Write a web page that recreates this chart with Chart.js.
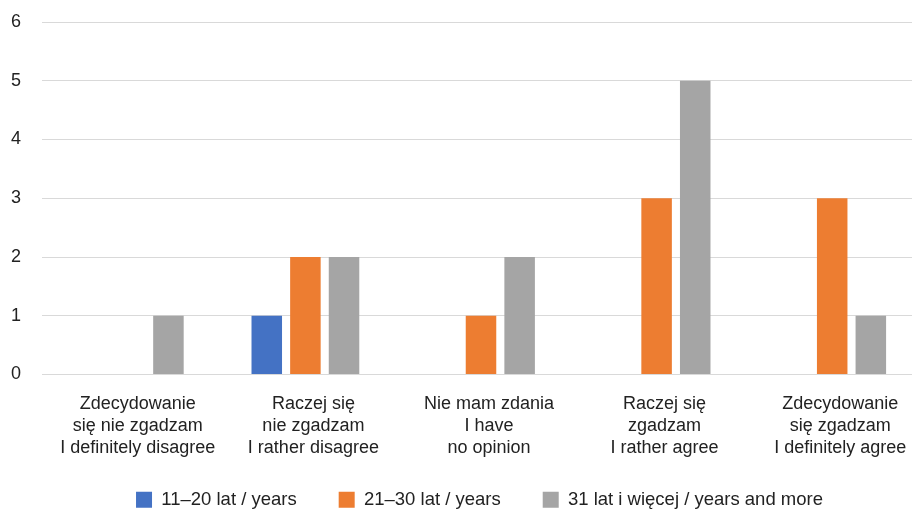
<!DOCTYPE html>
<html><head><meta charset="utf-8">
<script src="https://cdn.jsdelivr.net/npm/chart.js@4/dist/chart.umd.min.js"></script>
<style>html,body{margin:0;padding:0;overflow:hidden;background:#fff}#wrap{width:920px;height:512px}</style>
</head><body><div id="wrap"><canvas id="c" width="920" height="512"></canvas></div>
<script>
const categories = [
  ["Zdecydowanie", "się nie zgadzam", "I definitely disagree"],
  ["Raczej się", "nie zgadzam", "I rather disagree"],
  ["Nie mam zdania", "I have", "no opinion"],
  ["Raczej się", "zgadzam", "I rather agree"],
  ["Zdecydowanie", "się zgadzam", "I definitely agree"]
];
const seriesNames = ["11–20 lat / years", "21–30 lat / years", "31 lat i więcej / years and more"];
const age11_20 = [0, 1, 0, 0, 0];
const age21_30 = [0, 2, 1, 3, 3];
const age31plus = [1, 2, 2, 5, 1];
const yTicks = [0, 1, 2, 3, 4, 5, 6];
const colors = ["#4472C4", "#ED7D31", "#A5A5A5"];

const FONT = "'Liberation Sans', Arial, sans-serif";
const LEGEND_CUT = 18;
const LEGEND_SHIFT_UP = 11;
const LEGEND_SHIFT_RIGHT = 14;
const legendPatch = {
  id: 'legendPatch',
  beforeLayout(chart) {
    const lg = chart.legend;
    if (lg && !lg._fitPatched) {
      const orig = lg.fit;
      lg.fit = function () { orig.call(this); this.height -= LEGEND_CUT; };
      lg._fitPatched = true;
    }
  },
  afterLayout(chart) {
    const lg = chart.legend;
    if (lg) {
      lg.top -= LEGEND_SHIFT_UP;
      lg.left += LEGEND_SHIFT_RIGHT; lg.right += LEGEND_SHIFT_RIGHT;
    }
  }
};
new Chart(document.getElementById('c'), {
  type: 'bar',
  data: {
    labels: categories,
    datasets: [age11_20, age21_30, age31plus].map((d, i) => ({
      label: seriesNames[i], data: d, backgroundColor: colors[i],
      categoryPercentage: 0.66, barPercentage: 0.79
    }))
  },
  plugins: [legendPatch],
  options: {
    responsive: false, animation: false,
    layout: { padding: { top: 22, left: 11, right: 0, bottom: 0 } },
    plugins: {
      legend: { position: 'bottom',
        labels: { boxWidth: 16, boxHeight: 16, padding: 42, color: '#222', font: { family: FONT, size: 18.5 } } },
      tooltip: { enabled: false }
    },
    scales: {
      x: {
        grid: { display: false }, border: { display: false },
        afterFit: s => { s.height = 85; },
        ticks: { color: '#222', font: { family: FONT, size: 18, lineHeight: 1.222 }, maxRotation: 0, autoSkip: false, padding: 11, labelOffset: 8 }
      },
      y: {
        min: 0, max: 6,
        afterBuildTicks: s => { s.ticks = yTicks.map(v => ({ value: v })); },
        afterFit: s => { s.width = 31; },
        grid: { color: '#d9d9d9', lineWidth: 1, drawTicks: false },
        border: { display: false },
        ticks: { color: '#222', font: { family: FONT, size: 18 }, padding: 4, crossAlign: 'far' }
      }
    }
  }
});
</script></body></html>
